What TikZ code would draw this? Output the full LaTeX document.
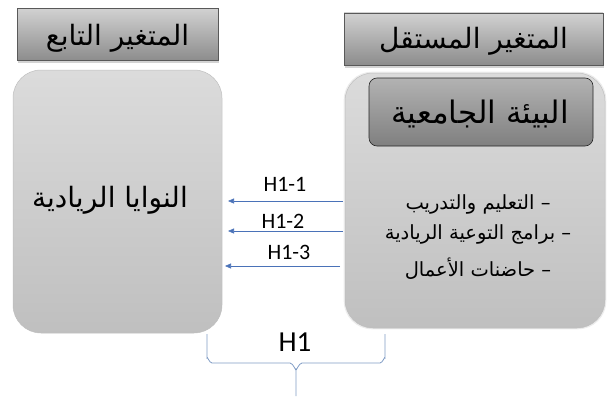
\documentclass[tikz,border=0pt]{standalone}
\usepackage{fontspec}
\setmainfont{Carlito}
\newfontfamily\arabicfont[Script=Arabic]{DejaVu Sans}
\TeXXeTstate=1
\usetikzlibrary{shadows,arrows.meta}
\definecolor{arrowblue}{HTML}{4A72B8}
\definecolor{bracecol}{HTML}{7F9BC4}
\tikzset{
  header/.style={draw=gray!70!black, line width=0.4pt, top color=black!18, bottom color=black!45,
    minimum width=#1, minimum height=52pt, inner sep=0pt,
    drop shadow={opacity=0.35, shadow xshift=1pt, shadow yshift=-2.5pt}},
  headtext/.style={font=\arabicfont\fontsize{28}{30}\selectfont, inner sep=0pt},
  bigbox/.style={draw=black!25, line width=0.5pt, top color=black!14, bottom color=black!25,
    rounded corners=28pt, inner sep=0pt},
  innerbox/.style={draw=black!85, line width=0.6pt, top color=black!30, bottom color=black!50,
    rounded corners=8pt, minimum width=224pt, minimum height=68pt, inner sep=0pt},
  hyp/.style={-{Triangle[length=6pt,width=5pt]}, draw=arrowblue, line width=0.6pt},
  hlabel/.style={font=\fontsize{22}{24}\selectfont, inner sep=0pt},
  brace/.style={draw=bracecol, line width=0.8pt},
  arabtext/.style={font=\arabicfont\fontsize{19.5}{22}\selectfont, inner sep=0pt}
}
\begin{document}
\begin{tikzpicture}[x=1pt,y=-1pt]
\useasboundingbox (0,0) rectangle (607,396);
% headers
\node[header=201pt] (hdep) at (117.5,34.5) {};
\node[header=259pt] (hind) at (473.5,39) {};
\node[headtext] (hdept) at (117.5,38) {\beginR المتغير التابع\endR};
\node[headtext] (hindt) at (473.5,41) {\beginR المتغير المستقل\endR};
% big boxes
\node[bigbox, minimum width=209pt, minimum height=263pt] (dep) at (117.5,201.5) {};
\node[bigbox, minimum width=260pt, minimum height=255pt,
  drop shadow={opacity=0.15, shadow xshift=0pt, shadow yshift=0pt, shadow scale=1.01}] (ind) at (475,200.5) {};
\node[font=\arabicfont\fontsize{28}{30}\selectfont, inner sep=0pt] (deptext) at (110,200) {\beginR النوايا الريادية\endR};
\node[innerbox] (env) at (481,112) {};
\node[font=\arabicfont\fontsize{31}{33}\selectfont, inner sep=0pt] (envt) at (480,114) {\beginR البيئة الجامعية\endR};
\node[arabtext] (t1) at (478,204.5) {\beginR – التعليم والتدريب\endR};
\node[arabtext] (t2) at (478,234.5) {\beginR – برامج التوعية الريادية\endR};
\node[arabtext] (t3) at (478,268.5) {\beginR – حاضنات الأعمال\endR};
% arrows
\coordinate (a1s) at (343,201); \coordinate (a1e) at (228,201);
\coordinate (a2s) at (343,231); \coordinate (a2e) at (228,231);
\coordinate (a3s) at (340,266); \coordinate (a3e) at (225,266);
\draw[hyp] (a1s) -- (a1e);
\draw[hyp] (a2s) -- (a2e);
\draw[hyp] (a3s) -- (a3e);
\node[hlabel] (h11) at (285,184) {H1-1};
\node[hlabel] (h12) at (283,221) {H1-2};
\node[hlabel] (h13) at (289,252) {H1-3};
% brace
\coordinate (bl) at (207,334);
\coordinate (br) at (385,334);
\coordinate (bt) at (296,396);
\draw[brace] (bl) -- (207,358) to[out=90,in=180] ++(5,5) -- (290,363)
  to[out=0,in=-90] (296,369) -- (bt);
\draw[brace] (br) -- (385,358) to[out=90,in=0] ++(-5,5) -- (302,363)
  to[out=180,in=-90] (296,369);
\node[font=\fontsize{29}{31}\selectfont, inner sep=0pt] (h1) at (295,342) {H1};
\end{tikzpicture}
\end{document}
